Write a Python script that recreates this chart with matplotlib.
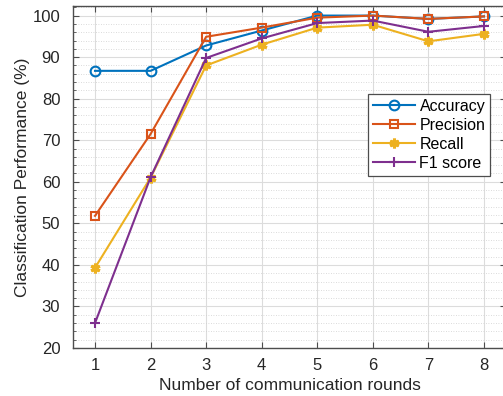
import matplotlib
matplotlib.use("Agg")
import matplotlib.pyplot as plt
from matplotlib.ticker import MultipleLocator

plt.rcParams['font.family'] = ['Liberation Sans', 'DejaVu Sans']

rounds = [1, 2, 3, 4, 5, 6, 7, 8]
accuracy = [86.7, 86.7, 92.8, 96.4, 100.0, 100.0, 99.2, 99.8]
precision = [51.8, 71.5, 94.9, 97.1, 99.5, 100.0, 99.2, 99.8]
recall = [39.3, 61.0, 88.0, 93.0, 97.1, 97.8, 93.8, 95.6]
f1 = [26.0, 61.1, 89.8, 94.5, 98.2, 98.8, 96.1, 97.5]

fig = plt.figure(figsize=(5.03, 3.96), dpi=100)
ax = fig.add_axes([0.1447, 0.1212, 0.8617, 0.8636])

ax.plot(rounds, accuracy, '-o', color='#0072BD', lw=1.5, ms=7, mfc='none', mew=1.5, label='Accuracy')
ax.plot(rounds, precision, '-s', color='#D95319', lw=1.5, ms=6, mfc='none', mew=1.5, label='Precision')
ax.plot(rounds, recall, '-', marker=(6, 2, 0), color='#EDB120', lw=1.5, ms=7, mew=2.2, label='Recall')
ax.plot(rounds, f1, '-+', color='#7E2F8E', lw=1.5, ms=7, mew=1.5, label='F1 score')

ax.set_xlim(0.6, 8.4)
ax.set_ylim(20, 102.3)
ax.set_xticks(rounds)
ax.set_yticks(range(20, 101, 10))
ax.yaxis.set_minor_locator(MultipleLocator(2))

ax.grid(which='major', color='#dcdcdc', lw=0.8)
ax.grid(which='minor', axis='y', color='#cfcfcf', lw=0.6, ls=(0, (1, 2)))
ax.set_axisbelow(True)

for sp in ax.spines.values():
    sp.set_color('#4d4d4d')
    sp.set_linewidth(1.0)
ax.tick_params(which='both', direction='in', top=True, right=True, colors='#4d4d4d',
               labelcolor='#262626', labelsize=12)
ax.tick_params(which='major', length=4)
ax.tick_params(which='minor', length=2)
ax.tick_params(axis='x', pad=7)
ax.tick_params(axis='y', pad=9)

ax.set_xlabel('Number of communication rounds', fontsize=12.5, color='#262626')
ax.set_ylabel('Classification Performance (%)', fontsize=12.5, color='#262626', labelpad=2)

leg = ax.legend(loc='upper left', bbox_to_anchor=(0.682, 0.742), fontsize=11.5, fancybox=False,
                framealpha=1, edgecolor='#4d4d4d', borderpad=0.3, labelspacing=0.25,
                handlelength=2.6, handletextpad=0.3, borderaxespad=0)
leg.get_frame().set_linewidth(0.9)

fig.savefig('out.png', dpi=100)
